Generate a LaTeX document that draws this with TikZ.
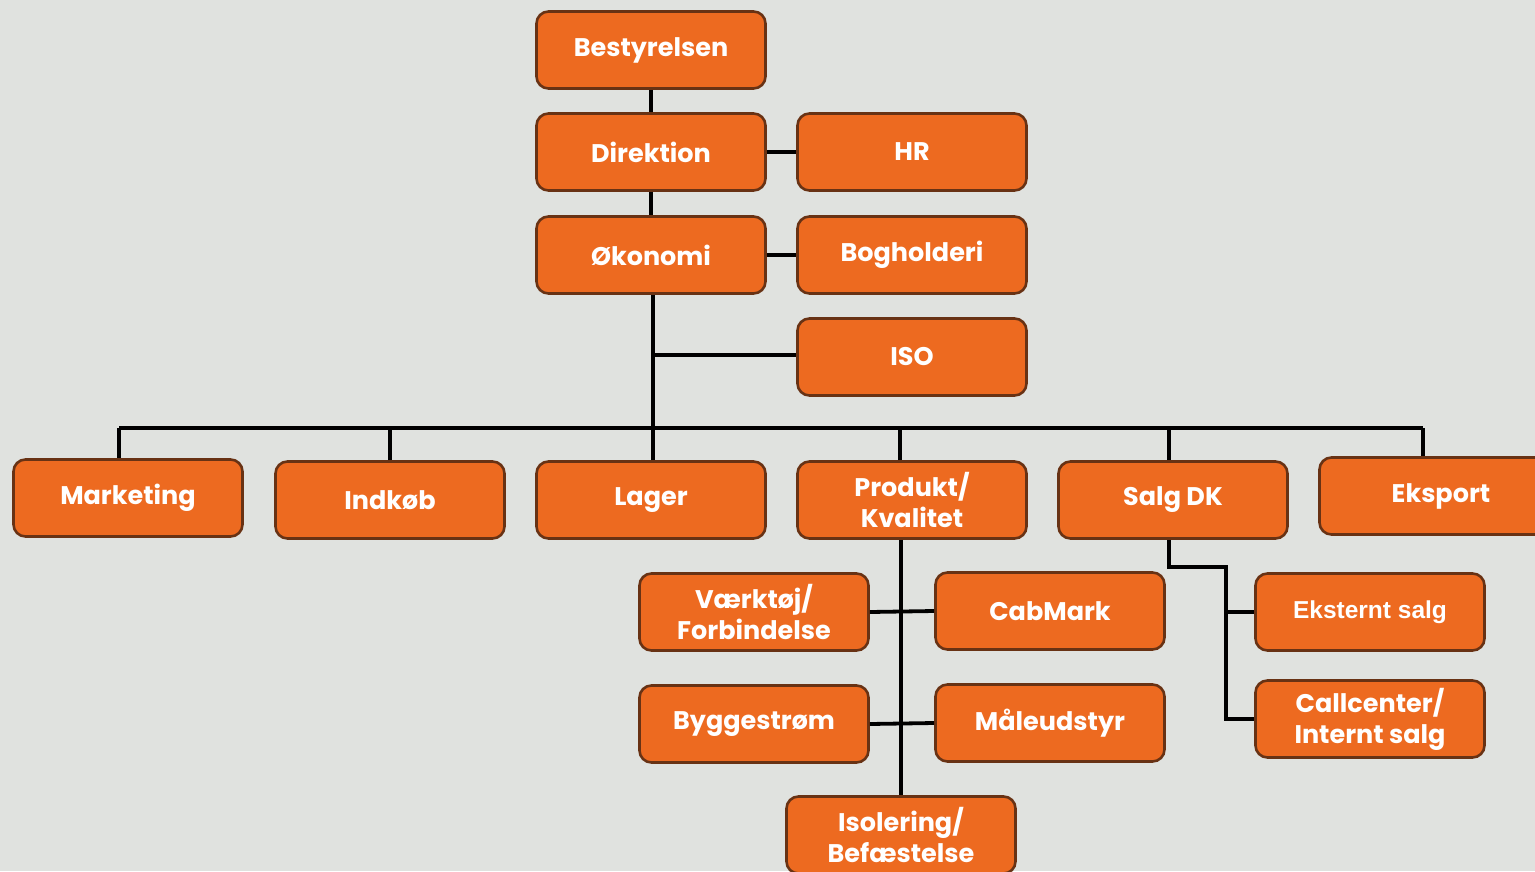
\documentclass[tikz,border=0pt]{standalone}
\usepackage{fontspec}
\setmainfont{Poppins}
\newfontfamily\arialfont{Liberation Sans}
\usepackage{tikz}

\definecolor{bgcol}{RGB}{224,226,223}
\definecolor{boxfill}{RGB}{237,106,32}
\definecolor{boxline}{RGB}{104,50,20}

\tikzset{
	unit/.style = {draw=boxline, fill=boxfill, line width=2.6pt, rounded corners=12pt,
		minimum width=229pt, minimum height=77pt, text=white, align=center,
		font=\fontsize{25.5}{31}\selectfont\bfseries, inner sep=0pt},
	link/.style = {line width=3.8pt, black}
}

\begin{document}
\begin{tikzpicture}[x=1pt, y=-1pt]

	\fill[bgcol] (0, 0) rectangle (1535, 871);
	\useasboundingbox (0, 0) rectangle (1535, 871);
	\clip (0, 0) rectangle (1535, 871);

	% top of the tree
	\node[unit] (bestyrelsen) at (651, 50) {Bestyrelsen};
	\node[unit] (direktion) at (651, 152) {Direktion};
	\node[unit] (hr) at (912, 152) {HR};
	\node[unit] (okonomi) at (651, 255) {Økonomi};
	\node[unit] (bogholderi) at (912, 255) {Bogholderi};
	\node[unit] (iso) at (912, 357) {ISO};

	% departments
	\node[unit] (marketing) at (128, 498) {Marketing};
	\node[unit] (indkob) at (390, 500) {Indkøb};
	\node[unit] (lager) at (651, 500) {Lager};
	\node[unit] (produkt) at (912, 500) {Produkt/\\Kvalitet};
	\node[unit] (salgdk) at (1173, 500) {Salg DK};
	\node[unit, text width=229pt, align=center] (eksport) at (1434, 496) {\hspace*{14pt}Eksport};

	% under Produkt/Kvalitet
	\node[unit] (vaerktoj) at (754, 612) {Værktøj/\\Forbindelse};
	\node[unit] (cabmark) at (1050, 611) {CabMark};
	\node[unit] (byggestrom) at (754, 724) {Byggestrøm};
	\node[unit] (maaleudstyr) at (1050, 723) {Måleudstyr};
	\node[unit] (isolering) at (901, 835) {Isolering/\\Befæstelse};

	% under Salg DK
	\node[unit, font=\fontsize{24.5}{31}\selectfont\arialfont\bfseries] (eksternt) at (1370, 612) {Eksternt salg};
	\node[unit] (callcenter) at (1370, 719) {Callcenter/\\Internt salg};

	% connectors
	\coordinate (bus) at (653, 428);
	\coordinate (isojoin) at (653, 355);
	\coordinate (salgjoin) at (1226, 567);

	\draw[link] (bestyrelsen) -- (direktion);
	\draw[link] (direktion) -- (okonomi);
	\draw[link] (direktion) -- (hr);
	\draw[link] (okonomi) -- (bogholderi);
	\draw[link] (okonomi.south -| bus) -- (bus);
	\draw[link] (isojoin) -- (iso.west |- isojoin);

	\draw[link] (119, 428) -- (1423, 428);
	\draw[link] (119, 428) -- (marketing.north -| 119, 0);
	\draw[link] (indkob.north) -- (indkob.north |- bus);
	\draw[link] (lager.north -| bus) -- (bus);
	\draw[link] (produkt.north -| 900, 0) -- (900, 428);
	\draw[link] (salgdk.north -| 1169, 0) -- (1169, 428);
	\draw[link] (eksport.north -| 1423, 0) -- (1423, 428);

	\draw[link] (produkt.south -| 901, 0) -- (isolering.north -| 901, 0);
	\draw[link] (vaerktoj.east) -- (cabmark.west);
	\draw[link] (byggestrom.east) -- (maaleudstyr.west);

	\draw[link] (salgdk.south -| 1169, 0) |- (salgjoin) |- (callcenter.west);
	\draw[link] (eksternt.west) -- (eksternt.west -| salgjoin);

\end{tikzpicture}
\end{document}
